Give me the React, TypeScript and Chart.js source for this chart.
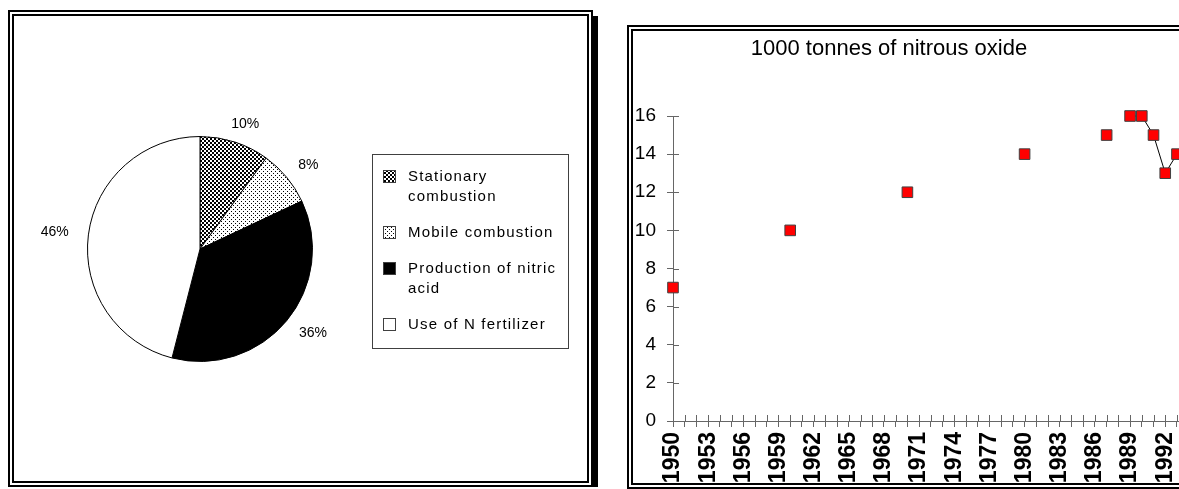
import React, { useEffect, useRef } from 'react';
import { Chart, registerables } from 'chart.js';

Chart.register(...registerables);

// ---------- data ----------
const sourceLabels = ['Stationary combustion', 'Mobile combustion', 'Production of nitric acid', 'Use of N fertilizer'];
const sourceShares = [10, 8, 36, 46];

const yearLabels = [
  '1950', '1951', '1952', '1953', '1954', '1955', '1956', '1957', '1958', '1959',
  '1960', '1961', '1962', '1963', '1964', '1965', '1966', '1967', '1968', '1969',
  '1970', '1971', '1972', '1973', '1974', '1975', '1976', '1977', '1978', '1979',
  '1980', '1981', '1982', '1983', '1984', '1985', '1986', '1987', '1988', '1989',
  '1990', '1991', '1992', '1993', '1994', '1995',
];
const observedYears = ['1950', '1960', '1970', '1980', '1987', '1989', '1990', '1991', '1992', '1993'];
const observedValues = [7, 10, 12, 14, 15, 16, 16, 15, 13, 14];
const yTickValues = [0, 2, 4, 6, 8, 10, 12, 14, 16];
const lineTitle = '1000 tonnes of nitrous oxide';

// ---------- styles ----------
const FONT = "'Liberation Sans', Arial, sans-serif";
const AXIS_GREY = '#666666';

function makePattern(kind: string): any {
  if (kind === 'solid') return '#000000';
  if (kind === 'blank') return '#ffffff';
  const c = document.createElement('canvas');
  c.width = 4;
  c.height = 4;
  const g = c.getContext('2d')!;
  g.fillStyle = '#ffffff';
  g.fillRect(0, 0, 4, 4);
  g.fillStyle = '#000000';
  if (kind === 'checker') {
    g.fillRect(0, 0, 2, 2);
    g.fillRect(2, 2, 2, 2);
  } else if (kind === 'dots') {
    g.fillRect(1, 1, 1, 1);
    g.fillRect(3, 3, 1, 1);
  }
  return g.createPattern(c, 'repeat');
}
const sliceFillKinds = ['checker', 'dots', 'solid', 'blank'];

function wrapText(ctx: CanvasRenderingContext2D, text: string, maxW: number): string[] {
  const words = text.split(' ');
  const lines: string[] = [];
  let cur = '';
  for (const w of words) {
    const t = cur ? cur + ' ' + w : w;
    if (cur && ctx.measureText(t).width > maxW) {
      lines.push(cur);
      cur = w;
    } else cur = t;
  }
  if (cur) lines.push(cur);
  return lines;
}

const pieDecor = {
  id: 'pieDecor',
  afterDraw(chart: any) {
    const ctx: CanvasRenderingContext2D = chart.ctx;
    const meta = chart.getDatasetMeta(0);
    const ds = chart.data.datasets[0];
    const total = ds.data.reduce((a: number, b: number) => a + b, 0);
    ctx.save();
    // percentage labels
    ctx.font = `14px ${FONT}`;
    ctx.fillStyle = '#000';
    ctx.textAlign = 'center';
    ctx.textBaseline = 'middle';
    meta.data.forEach((arc: any, i: number) => {
      const p = arc.getProps(['x', 'y', 'startAngle', 'endAngle', 'outerRadius'], true);
      const mid = (p.startAngle + p.endAngle) / 2;
      const c = Math.cos(mid);
      const s = Math.sin(mid);
      const text = Math.round((ds.data[i] / total) * 100) + '%';
      const w = ctx.measureText(text).width;
      const d = p.outerRadius + 13;
      ctx.fillText(text, p.x + c * d + c * w * 0.75, p.y + s * d + s * 6);
    });
    // legend
    const lg = chart.options.plugins.pieDecor;
    ctx.strokeStyle = '#404040';
    ctx.lineWidth = 1;
    ctx.fillStyle = '#fff';
    ctx.fillRect(lg.x, lg.y, lg.w, lg.h);
    ctx.strokeRect(lg.x + 0.5, lg.y + 0.5, lg.w, lg.h);
    ctx.font = `15px ${FONT}`;
    (ctx as any).letterSpacing = '1.2px';
    ctx.textAlign = 'left';
    let y = lg.y + 23;
    chart.data.labels.forEach((label: string, i: number) => {
      const lines = wrapText(ctx, label, 152);
      ctx.fillStyle = ds.backgroundColor[i];
      ctx.fillRect(lg.x + 11, y - 7, 13, 13);
      ctx.strokeStyle = '#404040';
      ctx.strokeRect(lg.x + 11.5, y - 6.5, 12, 12);
      ctx.fillStyle = '#000';
      lines.forEach((ln, k) => ctx.fillText(ln, lg.x + 36, y + k * 20));
      y += (lines.length - 1) * 20 + 36;
    });
    ctx.restore();
  },
};

const crossTicks = {
  id: 'crossTicks',
  beforeDatasetsDraw(chart: any) {
    const { ctx, chartArea } = chart;
    const xs = chart.scales.x;
    const ys = chart.scales.y;
    ctx.save();
    ctx.strokeStyle = AXIS_GREY;
    ctx.lineWidth = 1;
    ctx.beginPath();
    xs.ticks.forEach((_t: any, i: number) => {
      const px = Math.round(xs.getPixelForTick(i)) + 0.5;
      ctx.moveTo(px, chartArea.bottom);
      ctx.lineTo(px, chartArea.bottom - 6);
    });
    ys.ticks.forEach((_t: any, i: number) => {
      const py = Math.round(ys.getPixelForTick(i)) + 0.5;
      ctx.moveTo(chartArea.left, py);
      ctx.lineTo(chartArea.left + 6, py);
    });
    ctx.stroke();
    ctx.restore();
  },
};

const sideTitle = {
  id: 'sideTitle',
  afterDraw(chart: any) {
    const o = chart.options.plugins.sideTitle;
    const ctx = chart.ctx;
    ctx.save();
    ctx.font = `22px ${FONT}`;
    ctx.fillStyle = '#000';
    ctx.textAlign = 'center';
    ctx.textBaseline = 'alphabetic';
    ctx.fillText(o.text, o.x, o.y);
    ctx.restore();
  },
};

export default function App() {
  const pieRef = useRef<HTMLCanvasElement>(null);
  const lineRef = useRef<HTMLCanvasElement>(null);

  useEffect(() => {
    const fills = sliceFillKinds.map(makePattern);
    const pie = new Chart(pieRef.current!, {
      type: 'pie',
      data: {
        labels: sourceLabels,
        datasets: [{ data: sourceShares, backgroundColor: fills, borderColor: '#000', borderWidth: 1 }],
      },
      options: {
        responsive: false,
        animation: false,
        events: [],
        layout: { padding: { left: 87, top: 136, right: 287, bottom: 127 } },
        plugins: {
          legend: { display: false },
          tooltip: { enabled: false },
          pieDecor: { x: 372, y: 154, w: 196, h: 194 },
        } as any,
      },
      plugins: [pieDecor],
    });

    const series = yearLabels.map((y) => {
      const k = observedYears.indexOf(y);
      return k >= 0 ? observedValues[k] : null;
    });

    const line = new Chart(lineRef.current!, {
      type: 'line',
      data: {
        labels: yearLabels,
        datasets: [
          {
            data: series,
            borderColor: '#000',
            borderWidth: 1,
            pointStyle: 'rect',
            pointRadius: 7.5,
            pointHoverRadius: 7.5,
            pointBackgroundColor: '#ff0000',
            pointBorderColor: '#404040',
            pointBorderWidth: 1,
            spanGaps: false,
            tension: 0,
            clip: false as any,
          },
        ],
      },
      options: {
        responsive: false,
        animation: false,
        events: [],
        layout: { padding: { top: 85, right: 32, left: 0, bottom: 0 } },
        plugins: {
          legend: { display: false },
          tooltip: { enabled: false },
          sideTitle: { text: lineTitle, x: 256, y: 24 },
        } as any,
        scales: {
          x: {
            type: 'category',
            offset: false,
            grid: { display: true, drawOnChartArea: false, drawTicks: true, tickLength: 6, color: AXIS_GREY, offset: false },
            border: { display: true, color: AXIS_GREY, width: 1 },
            ticks: {
              autoSkip: false,
              maxRotation: 90,
              minRotation: 90,
              padding: 5,
              color: '#000',
              font: { family: FONT, size: 23, weight: 'bold' },
              callback: function (this: any, v: any, i: number) {
                return i % 3 === 0 ? this.getLabelForValue(v) : '';
              },
            },
            afterFit: (s: any) => {
              s.height = 80;
            },
          },
          y: {
            min: 0,
            max: 16,
            grid: { display: true, drawOnChartArea: false, drawTicks: true, tickLength: 6, color: AXIS_GREY },
            border: { display: true, color: AXIS_GREY, width: 1 },
            ticks: { padding: 11, color: '#000', font: { family: FONT, size: 19 } },
            afterBuildTicks: (s: any) => {
              s.ticks = yTickValues.map((v) => ({ value: v }));
            },
            afterFit: (s: any) => {
              s.width = 40;
            },
          },
        } as any,
      },
      plugins: [crossTicks, sideTitle],
    });

    return () => {
      pie.destroy();
      line.destroy();
    };
  }, []);

  const box = (l: number, t: number, w: number, h: number) => ({
    position: 'absolute' as const,
    left: l,
    top: t,
    width: w,
    height: h,
    boxSizing: 'border-box' as const,
    border: '2px solid #000',
    pointerEvents: 'none' as const,
  });

  return (
    <div style={{ position: 'fixed', left: 0, top: 0, width: 1179, height: 489, overflow: 'hidden', background: '#fff' }}>
      <canvas ref={pieRef} width={600} height={489} style={{ position: 'absolute', left: 0, top: 0 }} />
      <div style={{ position: 'absolute', left: 633, top: 31, width: 546, height: 452, overflow: 'hidden' }}>
        <canvas ref={lineRef} width={600} height={470} style={{ position: 'absolute', left: 0, top: 0 }} />
      </div>
      {/* left panel frame */}
      <div style={box(8, 10, 585, 477)} />
      <div style={box(12, 14, 577, 469)} />
      <div style={{ position: 'absolute', left: 593, top: 16, width: 5, height: 471, background: '#000' }} />
      {/* right panel frame */}
      <div style={box(627, 25, 700, 464)} />
      <div style={box(631, 29, 700, 456)} />
    </div>
  );
}
